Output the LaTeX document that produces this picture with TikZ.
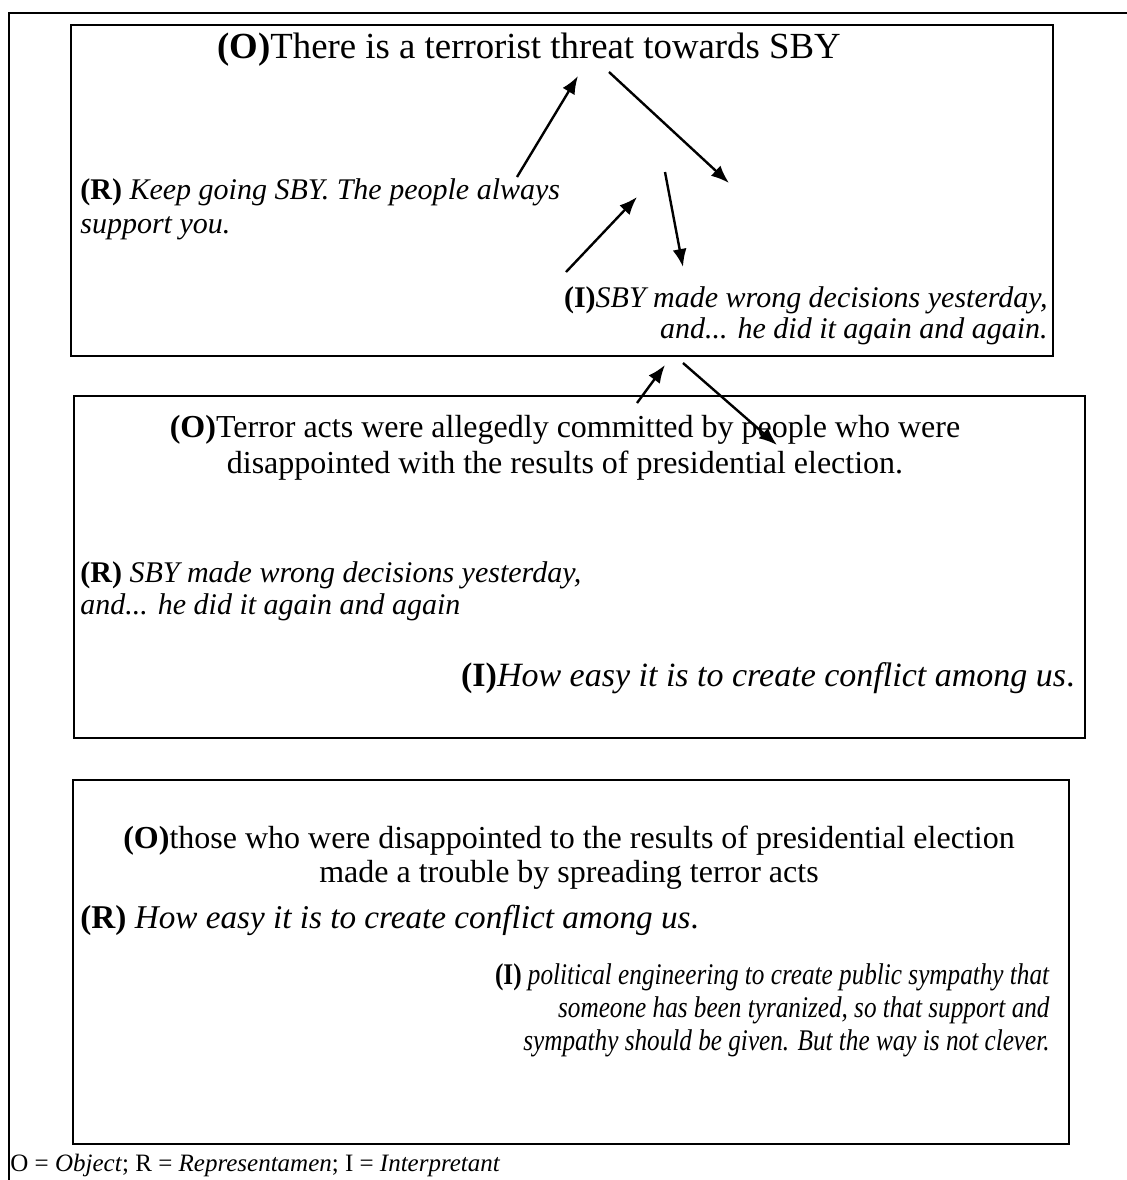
\documentclass[tikz,border=0pt]{standalone}
\usepackage{fontspec}
\setmainfont{Liberation Serif}
\newfontfamily\narrowrm[FakeStretch=0.84]{Liberation Serif}
\usetikzlibrary{arrows.meta}

\begin{document}
\begin{tikzpicture}[x=0.5pt,y=-0.5pt,>={Latex[length=9pt,width=7pt]},
    panel/.style={line width=1pt},
    otext/.style={inner sep=0pt,align=center},
    itext/.style={inner sep=0pt},
    link/.style={->,line width=1.2pt}]
  \useasboundingbox (0,0) rectangle (1127,1180);
  % outer frame
  \draw[line width=1.3pt] (9,1180) -- (9,13) -- (1127,13);
  % the three panels
  \draw[panel] (71,25) rectangle (1053,356);
  \draw[panel] (74,396) rectangle (1085,738);
  \draw[panel] (73,780) rectangle (1069,1144);

  % first panel
  \node[otext,anchor=base,font=\fontsize{18.4}{18}\selectfont] (o1) at (529,58)
    {\textbf{(O)}There is a terrorist threat towards SBY};
  \node[itext,anchor=base west,align=left,font=\fontsize{15}{17}\selectfont] (r1) at (80,233)
    {\textbf{(R)} \textit{Keep going SBY. The people always}\\\textit{support you.}};
  \node[itext,anchor=base east,align=right,font=\fontsize{15}{15.5}\selectfont] (i1) at (1048,338)
    {\textbf{(I)}\textit{SBY made wrong decisions yesterday,}\\\textit{and... he did it again and again.}};

  % second panel
  \node[otext,anchor=base,font=\fontsize{16}{18}\selectfont] (o2) at (565,473)
    {\textbf{(O)}Terror acts were allegedly committed by people who were\\disappointed with the results of presidential election.};
  \node[itext,anchor=base west,align=left,font=\fontsize{15}{16}\selectfont] (r2) at (80,614)
    {\textbf{(R)} \textit{SBY made wrong decisions yesterday,}\\\textit{and... he did it again and again}};
  \node[itext,anchor=base east,font=\fontsize{17}{18}\selectfont] (i2) at (1075,686)
    {\textbf{(I)}\textit{How easy it is to create conflict among us}.};

  % third panel
  \node[otext,anchor=base,font=\fontsize{16}{17}\selectfont] (o3) at (569,882)
    {\textbf{(O)}those who were disappointed to the results of presidential election\\made a trouble by spreading terror acts};
  \node[itext,anchor=base west,font=\fontsize{16.6}{18}\selectfont] (r3) at (80,928)
    {\textbf{(R)} \textit{How easy it is to create conflict among us}.};
  \node[itext,anchor=base east,align=right,font=\narrowrm\fontsize{15}{16.5}\selectfont] (i3) at (1050,1050)
    {\textbf{(I)} \textit{political engineering to create public sympathy that}\\
     \textit{someone has been tyranized, so that support and}\\
     \textit{sympathy should be given. But the way is not clever.}};

  \node[itext,anchor=base west,font=\fontsize{12.5}{14}\selectfont] (key) at (10,1171)
    {O = \textit{Object}; R = \textit{Representamen}; I = \textit{Interpretant}};

  % arrow ends
  \coordinate (a1s) at (517,177); \coordinate (a1e) at (578,76);
  \coordinate (a2s) at (609,72);  \coordinate (a2e) at (729,183);
  \coordinate (a3s) at (566,272); \coordinate (a3e) at (637,197);
  \coordinate (a4s) at (665,172); \coordinate (a4e) at (683,267);
  \coordinate (a5s) at (637,403); \coordinate (a5e) at (665,365);
  \coordinate (a6s) at (683,363); \coordinate (a6e) at (777,445);
  \foreach \a in {1,...,6}
    \draw[link] (a\a s) -- (a\a e);
\end{tikzpicture}
\end{document}
